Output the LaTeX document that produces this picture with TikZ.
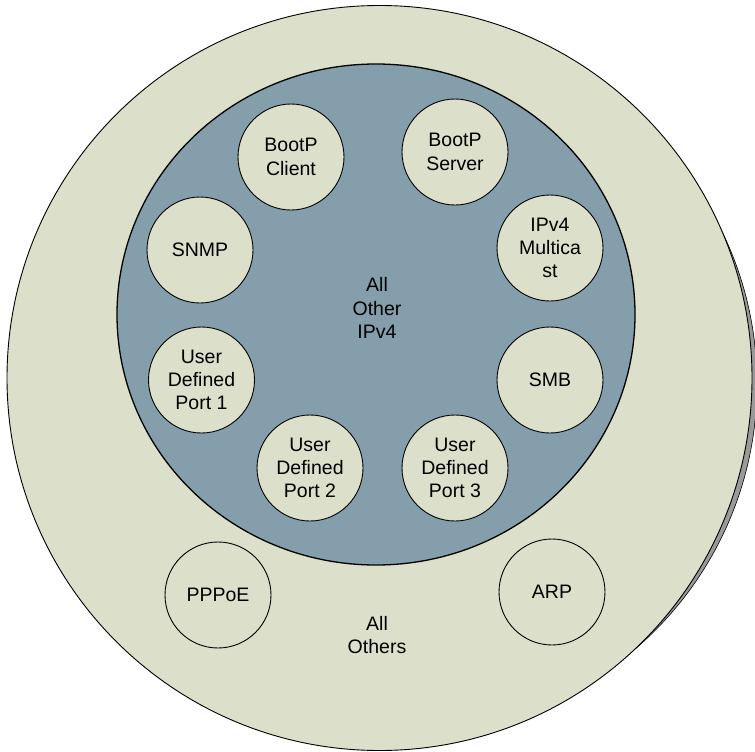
\documentclass[tikz,border=0pt]{standalone}
\usepackage{fontspec}
\setmainfont{Liberation Sans}
\definecolor{pale}{HTML}{DCE0CB}
\definecolor{slate}{HTML}{849FAB}
\definecolor{shade}{HTML}{9A9A9A}
\begin{document}
\begin{tikzpicture}[x=1pt,y=-1pt,
  txt/.style={align=center, inner sep=0pt, font=\fontsize{19.5}{23.3}\selectfont},
  proto/.style={txt, circle, draw=black, line width=0.9pt, fill=pale, minimum size=106pt}]
\useasboundingbox (0,0) rectangle (755,752);
\draw[fill=shade, line width=0.6pt] (408,384) circle [radius=349pt];
\draw[fill=pale, line width=0.9pt] (379.5,378) circle [radius=372.5pt];
\draw[fill=slate, line width=1.3pt] (376,314.5) ellipse [x radius=259pt, y radius=250.5pt];
\node[proto] (bootpc) at (291,157) {BootP\\Client};
\node[proto] (bootps) at (455,152) {BootP\\Server};
\node[proto] (snmp) at (200,250) {SNMP};
\node[proto] (mcast) at (550,248) {IPv4\\Multica\\st};
\node[proto] (udp1) at (201.5,380) {User\\Defined\\Port 1};
\node[proto] (smb) at (550,380) {SMB};
\node[proto] (udp2) at (310,468) {User\\Defined\\Port 2};
\node[proto] (udp3) at (455,468) {User\\Defined\\Port 3};
\node[proto] (pppoe) at (218,595) {PPPoE};
\node[proto] (arp) at (552,592) {ARP};
\node[txt] (allipv4) at (377,308) {All\\Other\\IPv4};
\node[txt] (allothers) at (377,635) {All\\Others};
\end{tikzpicture}
\end{document}
